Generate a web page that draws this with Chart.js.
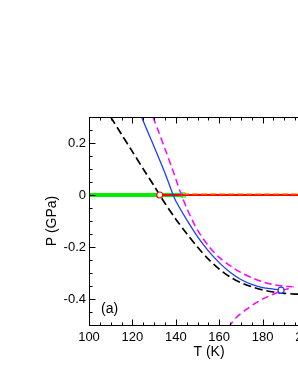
<!DOCTYPE html>
<html lang="en">
<head>
<meta charset="UTF-8">
<title>P-T diagram (a)</title>
<style>
    body, html {
        margin: 0;
        padding: 0;
        background: #fff;
        overflow: hidden;
    }
    #wrap {
        width: 320px;
        height: 385px;
    }
</style>
</head>
<body>
<div id="wrap"><canvas id="chart" width="320" height="385"></canvas></div>
<script src="https://cdn.jsdelivr.net/npm/chart.js"></script>
<script>
    // curves (T in K, P in GPa)
    const blackT = [110, 115, 120, 125, 130, 132.6, 135, 140, 145, 150, 155, 160, 165, 170, 175, 180, 185, 190, 195, 200];
    const blackP = [0.30, 0.233, 0.167, 0.10, 0.035, 0, -0.032, -0.093, -0.148, -0.20, -0.247, -0.285, -0.315, -0.337, -0.353, -0.365, -0.373, -0.378, -0.381, -0.383];

    const blueT = [124.2, 128, 130, 135, 138.8, 140, 145, 150, 155, 160, 165, 170, 175, 180, 185, 188.5];
    const blueP = [0.30, 0.225, 0.186, 0.085, 0, -0.023, -0.095, -0.16, -0.215, -0.26, -0.297, -0.325, -0.344, -0.356, -0.362, -0.366];

    // upper branch then lower branch back to the bottom
    const magT = [129.5, 132, 135, 138, 140, 142.6, 145, 147.5, 150, 155, 160, 165, 170, 175, 180, 185, 190, 194,
                  191, 188, 184, 180, 176, 172, 168, 165];
    const magP = [0.30, 0.245, 0.178, 0.11, 0.062, 0, -0.05, -0.095, -0.135, -0.195, -0.24, -0.272, -0.298, -0.318, -0.334, -0.345, -0.351, -0.354,
                  -0.362, -0.371, -0.385, -0.40, -0.42, -0.443, -0.47, -0.5];

    const greenT = [100, 143.4];
    const greenP = [0, 0];
    const redT = [132.6, 200];
    const redP = [0, 0];
    const orangeT = [143.4, 200];
    const orangeP = [0.004, 0.004];

    const redPoint = [132.6, 0];
    const bluePoint = [188.5, -0.366];

    const xTicks = [100, 120, 140, 160, 180, 200];
    const yTicks = [-0.4, -0.2, 0, 0.2];

    const FONT = 'Liberation Sans, Arial, Helvetica, sans-serif';

    function pts(xs, ys) {
        return xs.map((v, i) => ({ x: v, y: ys[i] }));
    }

    // frame, inward ticks, x title and panel label
    const framePlugin = {
        id: 'frame',
        afterDatasetsDraw(chart) {
            const { ctx, chartArea: a, scales: { x, y } } = chart;
            const L = Math.round(a.left) + 0.5, R = Math.round(a.right) + 0.5;
            const T = Math.round(a.top) + 0.5, B = Math.round(a.bottom) + 0.5;
            ctx.save();
            ctx.strokeStyle = '#000';
            ctx.lineWidth = 1;
            ctx.strokeRect(L, T, R - L, B - T);
            ctx.beginPath();
            for (let t = 100; t <= 200; t += 5) {
                const px = Math.round(x.getPixelForValue(t)) + 0.5;
                const len = t % 20 === 0 ? 6 : 3;
                ctx.moveTo(px, B); ctx.lineTo(px, B - len);
                ctx.moveTo(px, T); ctx.lineTo(px, T + len);
            }
            for (let i = -10; i <= 6; i++) {
                const py = Math.round(y.getPixelForValue(i * 0.05)) + 0.5;
                const len = i % 4 === 0 ? 6 : 3;
                ctx.moveTo(L, py); ctx.lineTo(L + len, py);
                ctx.moveTo(R, py); ctx.lineTo(R - len, py);
            }
            ctx.stroke();

            ctx.fillStyle = '#000';
            ctx.font = '14px ' + FONT;
            ctx.textBaseline = 'middle';
            ctx.textAlign = 'center';
            ctx.fillText('T (K)', 209, 352);
            ctx.textAlign = 'left';
            ctx.fillText('(a)', 101, 309);
            ctx.restore();
        }
    };

    new Chart(document.getElementById('chart'), {
        type: 'scatter',
        data: {
            datasets: [
                {
                    data: [{ x: redPoint[0], y: redPoint[1] }],
                    pointRadius: 3, pointBorderWidth: 1.2,
                    pointBorderColor: '#ff0000', pointBackgroundColor: '#ffffff',
                    order: 0
                },
                {
                    data: [{ x: bluePoint[0], y: bluePoint[1] }],
                    pointRadius: 3, pointBorderWidth: 1.2,
                    pointBorderColor: '#1f3cff', pointBackgroundColor: '#ffffff',
                    order: 0
                },
                {
                    data: pts(magT, magP), showLine: true, tension: 0.3,
                    borderColor: '#ff00ff', borderWidth: 1.5, borderDash: [7, 4],
                    pointRadius: 0, order: 1
                },
                {
                    data: pts(blueT, blueP), showLine: true, tension: 0.3,
                    borderColor: '#1f3cff', borderWidth: 1.3,
                    pointRadius: 0, order: 2
                },
                {
                    data: pts(blackT, blackP), showLine: true, tension: 0.3,
                    borderColor: '#000000', borderWidth: 1.7, borderDash: [8, 4],
                    pointRadius: 0, order: 3
                },
                {
                    data: pts(orangeT, orangeP), showLine: true,
                    borderColor: '#ff8c00', borderWidth: 1.3, borderDash: [6, 3],
                    pointRadius: 0, order: 4
                },
                {
                    data: pts(redT, redP), showLine: true,
                    borderColor: '#ff0000', borderWidth: 2,
                    pointRadius: 0, order: 5
                },
                {
                    data: pts(greenT, greenP), showLine: true,
                    borderColor: '#00ee00', borderWidth: 4,
                    pointRadius: [0, 3], pointStyle: 'rect',
                    pointBorderColor: '#00ee00', pointBackgroundColor: 'rgba(0,0,0,0)', pointBorderWidth: 1,
                    order: 6
                }
            ]
        },
        options: {
            responsive: false,
            devicePixelRatio: 1,
            animation: false,
            layout: { padding: { top: 117, right: 14, left: 0, bottom: 0 } },
            plugins: {
                legend: { display: false },
                tooltip: { enabled: false }
            },
            scales: {
                x: {
                    type: 'linear', min: 100, max: 200,
                    grid: { display: false, drawTicks: false },
                    border: { display: false },
                    ticks: {
                        stepSize: 20, autoSkip: false, maxRotation: 0, padding: 5,
                        color: '#000', font: { family: FONT, size: 13 },
                        callback: v => xTicks.includes(v) ? String(v) : ''
                    },
                    afterFit: s => { s.height = 60; s.paddingLeft = 0; s.paddingRight = 0; }
                },
                y: {
                    type: 'linear', min: -0.5, max: 0.3,
                    grid: { display: false, drawTicks: false },
                    border: { display: false },
                    title: {
                        display: true, text: 'P (GPa)', color: '#000',
                        font: { family: FONT, size: 14 }, padding: { top: 44, bottom: 0 }
                    },
                    ticks: {
                        stepSize: 0.1, autoSkip: false, padding: 3,
                        color: '#000', font: { family: FONT, size: 13 },
                        callback: v => {
                            const hit = yTicks.find(t => Math.abs(t - v) < 1e-6);
                            if (hit === undefined) return '';
                            return hit === 0 ? '0' : hit.toFixed(1);
                        }
                    },
                    afterFit: s => { s.width = 89; s.paddingTop = 0; s.paddingBottom = 0; }
                }
            }
        },
        plugins: [framePlugin]
    });
</script>
</body>
</html>
